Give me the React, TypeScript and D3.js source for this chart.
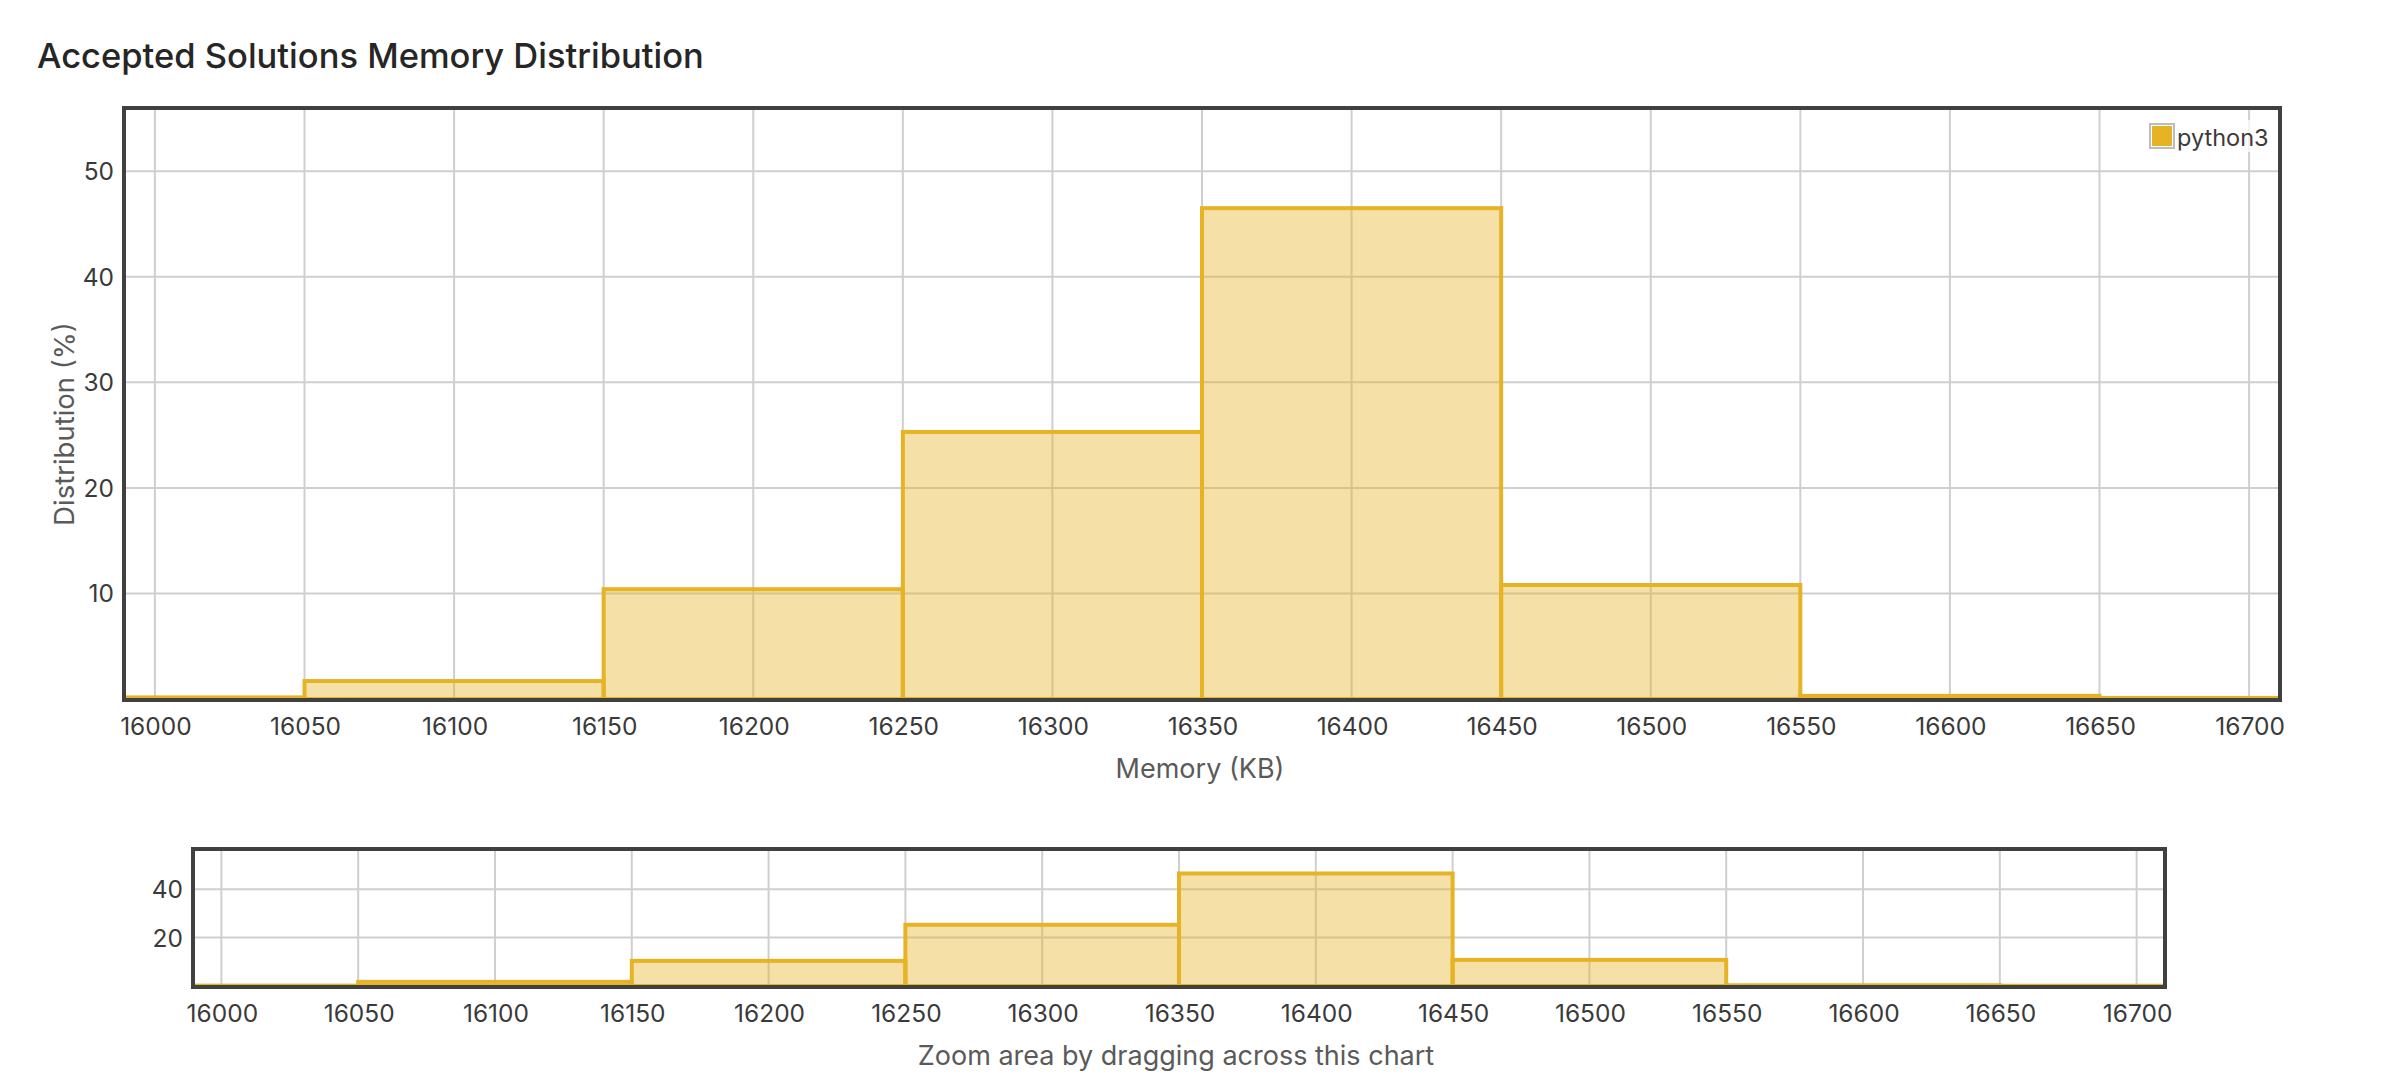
import React from "react";
import * as d3 from "d3";

const binStarts = [15950, 16050, 16150, 16250, 16350, 16450, 16550, 16650];
const binWidth = 100;
const percentages = [0.15, 1.7, 10.4, 25.3, 46.5, 10.8, 0.3, 0.1];
const xTicks = [16000, 16050, 16100, 16150, 16200, 16250, 16300, 16350, 16400, 16450, 16500, 16550, 16600, 16650, 16700];
const mainYTicks = [10, 20, 30, 40, 50];
const navYTicks = [20, 40];
const xDomain: [number, number] = [15990, 16710];
const yDomain: [number, number] = [0, 55.8];

const W = 2394;
const H = 1084;
const FONT = "Inter, 'Noto Sans', sans-serif";
const GOLD = "#e6b325";
const FILL = "rgba(230,179,37,0.4)";
const GRID = "#cfcfcf";
const BORDER = "#404040";
const TEXT = "#3a3a3a";
const SUB = "#5a5a5a";

type PanelProps = {
  id: string;
  x0: number;
  x1: number;
  y0: number;
  y1: number;
  yTicks: number[];
  tickY: number;
  fontSize: number;
};

function Panel({ id, x0, x1, y0, y1, yTicks, tickY, fontSize }: PanelProps) {
  const x = d3.scaleLinear().domain(xDomain).range([x0, x1]);
  const y = d3.scaleLinear().domain(yDomain).range([y1, y0]);
  const bins = binStarts.map((s, i) => ({ s, e: s + binWidth, v: percentages[i] }));
  return (
    <g>
      <defs>
        <clipPath id={id}>
          <rect x={x0} y={y0} width={x1 - x0} height={y1 - y0} />
        </clipPath>
      </defs>
      <g>
        {xTicks.map((t) => (
          <line key={"gx" + t} x1={x(t)} x2={x(t)} y1={y0} y2={y1} stroke={GRID} strokeWidth={2} />
        ))}
        {yTicks.map((t) => (
          <line key={"gy" + t} x1={x0} x2={x1} y1={y(t)} y2={y(t)} stroke={GRID} strokeWidth={2} />
        ))}
      </g>
      <g clipPath={`url(#${id})`}>
        {bins.map((b, i) => (
          <rect
            key={i}
            x={x(b.s)}
            y={y(b.v)}
            width={x(b.e) - x(b.s)}
            height={y(0) - y(b.v)}
            fill={FILL}
            stroke={GOLD}
            strokeWidth={4}
          />
        ))}
      </g>
      <rect x={x0 - 1} y={y0 - 2} width={x1 - x0 + 2} height={y1 - y0 + 3} fill="none" stroke={BORDER} strokeWidth={4} />
      {xTicks.map((t) => (
        <text key={"tx" + t} x={x(t) + 1} y={tickY} textAnchor="middle" dominantBaseline="central" fontFamily={FONT} fontSize={fontSize} fill={TEXT}>
          {t}
        </text>
      ))}
      {yTicks.map((t) => (
        <text key={"ty" + t} x={x0 - 11} y={y(t)} textAnchor="end" dominantBaseline="central" fontFamily={FONT} fontSize={fontSize} fill={TEXT}>
          {t}
        </text>
      ))}
    </g>
  );
}

export default function App() {
  return (
    <svg width={W} height={H} style={{ position: "absolute", left: 0, top: 0, background: "#fff" }}>
      <rect x={0} y={0} width={W} height={H} fill="#fff" />
      <text x={37} y={68} fontFamily={FONT} fontWeight={500} fontSize={34.5} fill="#262626">
        Accepted Solutions Memory Distribution
      </text>
      <Panel id="clipMain" x0={125} x1={2279} y0={110} y1={699} yTicks={mainYTicks} tickY={726} fontSize={24.5} />
      <text x={1200} y={768} textAnchor="middle" dominantBaseline="central" fontFamily={FONT} fontSize={27} fill={SUB}>
        Memory (KB)
      </text>
      <text
        transform="translate(64,424) rotate(-90)"
        textAnchor="middle"
        dominantBaseline="central"
        fontFamily={FONT}
        fontSize={27.5}
        fill={SUB}
      >
        Distribution (%)
      </text>
      <g>
        <rect x={2146} y={120} width={124} height={32} fill="rgba(255,255,255,0.7)" />
        <rect x={2150} y={124} width={24} height={24} fill="none" stroke="#bdbdbd" strokeWidth={2} />
        <rect x={2152} y={126} width={20} height={20} fill={GOLD} />
        <text x={2177} y={146} fontFamily={FONT} fontSize={23.5} fill={TEXT}>
          python3
        </text>
      </g>
      <Panel id="clipNav" x0={194} x1={2164} y0={851} y1={986} yTicks={navYTicks} tickY={1013} fontSize={24.5} />
      <text x={1176} y={1055} textAnchor="middle" dominantBaseline="central" fontFamily={FONT} fontSize={27} fill={SUB}>
        Zoom area by dragging across this chart
      </text>
    </svg>
  );
}
